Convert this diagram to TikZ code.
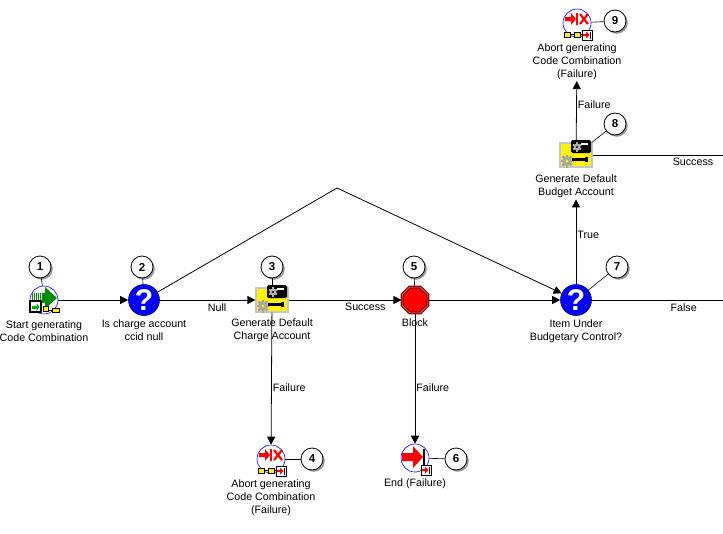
\documentclass[tikz,border=0pt]{standalone}
\usepackage{fontspec}
\setmainfont{Liberation Sans}
\usetikzlibrary{shapes.geometric, positioning, arrows.meta, shadows}

\tikzset{
  caption/.style={align=center, inner sep=1pt, font=\fontsize{10.7}{13}\selectfont},
  edgelabel/.style={inner sep=1pt, font=\fontsize{10.7}{13}\selectfont},
  badge/.style={circle, draw, fill=white, minimum size=22pt, inner sep=0pt, line width=0.8pt,
    font=\bfseries\fontsize{11.5}{13}\selectfont,
    drop shadow={shadow xshift=1.8pt, shadow yshift=-1.8pt, fill=gray, opacity=0.8}},
  flow/.style={-{Triangle[length=8pt, width=8pt]}},
  processicon/.style={circle, draw=blue, fill=white, minimum size=28pt, inner sep=0pt, line width=0.6pt},
  question/.style={circle, draw=blue!50!black, fill=blue, minimum size=31pt, inner sep=0pt,
    line width=0.6pt, text=white, font=\bfseries\fontsize{30}{30}\selectfont},
  function/.style={rectangle, draw=gray!45, fill=yellow, minimum width=32pt, minimum height=24pt,
    inner sep=0pt, line width=1.2pt},
  stopicon/.style={regular polygon, regular polygon sides=8, draw=red!50!black, double=red!45!white,
    double distance=0.6pt, line width=1.2pt, fill=red, minimum size=28pt, inner sep=0pt},
  pics/endbox/.style={code={
    \filldraw[fill=white, draw=black, line width=0.8pt] (-5,-5) rectangle (5,5);
    \fill[red] (-4,-1) -- (-1,-1) -- (-1,-3.5) -- (2.5,0) -- (-1,3.5) -- (-1,1) -- (-4,1) -- cycle;
    \fill[black] (2.5,-3.5) rectangle (3.8,3.5);
  }},
  pics/startmarks/.style={code={
    \fill[green!55!black] (-12,-7) -- (1,-7) -- (1,-13) -- (13,-2) -- (1,9) -- (1,3) -- (-12,3) -- cycle;
    \foreach \x in {-11,-9,-7,-5,-3}
      \draw[white, line width=0.6pt] (\x,-7) -- (\x,3);
    \filldraw[fill=white, draw=black, line width=1.2pt] (-14,1) rectangle (-3,12);
    \fill[green!70!black] (-12,5.5) rectangle (-7.5,8.5);
    \fill[green!70!black] (-7.5,3) -- (-4.5,7) -- (-7.5,11) -- cycle;
    \filldraw[fill=yellow, line width=0.5pt] (-1,6) rectangle (4,11);
    \draw[line width=0.5pt] (4,10) -- (8,10);
    \filldraw[fill=yellow, line width=0.5pt] (8,8) rectangle (15,12);
  }},
  pics/abortmarks/.style={code={
    \fill[red] (-12,-6) -- (-6,-6) -- (-6,-10) -- (-1,-4) -- (-6,2) -- (-6,-2) -- (-12,-2) -- cycle;
    \fill[red] (-1,-10) rectangle (1,2);
    \draw[red, line width=2.2pt] (3,-9) -- (11,1) (3,1) -- (11,-9);
    \filldraw[fill=yellow, line width=0.5pt] (-13,9) rectangle (-7,14);
    \draw[line width=0.5pt] (-7,11.5) -- (-3,11.5);
    \filldraw[fill=yellow, line width=0.5pt] (-3,9) rectangle (3,14);
    \draw[line width=0.5pt] (3,11.5) -- (5,11.5);
    \pic at (10,12) {endbox};
  }},
  pics/endmarks/.style={code={
    \fill[red] (-13,-5) -- (-2,-5) -- (-2,-12) -- (8,-1) -- (-2,10) -- (-2,3) -- (-13,3) -- cycle;
    \fill[black] (8,-9) rectangle (10,7);
    \pic at (11,12) {endbox};
  }},
  pics/functionmarks/.style={code={
    \fill[gray!70] (-9,6) circle (5);
    \foreach \a in {0,45,...,315}
      \fill[gray!70, shift={(-9,6)}, rotate=\a] (-1.3,4) rectangle (1.3,6.5);
    \fill[yellow] (-9,6) circle (1.6);
    \fill[black] (-4,3) rectangle (11,5.5);
    \fill[black] (9,1.5) rectangle (12,7);
    \fill[black, rounded corners=1.5pt] (-5,-15) rectangle (15,-2);
    \fill[gray!60] (1,-8) circle (3.5);
    \foreach \a in {0,60,...,300}
      \fill[gray!60, shift={(1,-8)}, rotate=\a] (-0.9,3) rectangle (0.9,4.7);
    \fill[black] (1,-8) circle (1.1);
    \fill[white] (5,-12) rectangle (12,-10);
  }},
}

\begin{document}
\begin{tikzpicture}[x=1pt, y=-1pt, line width=0.8pt]
\useasboundingbox (0,0) rectangle (723,533);

% activity icons
\node[processicon] (n1) at (44,300) {};
\pic at (n1) {startmarks};
\node[question] (n2) at (144,300) {?};
\node[function] (n3) at (272,300) {};
\pic at (n3) {functionmarks};
\node[processicon] (n4) at (271,459) {};
\pic at (n4) {abortmarks};
\node[stopicon] (n5) at (415,300) {};
\node[processicon] (n6) at (415,458) {};
\pic at (n6) {endmarks};
\node[question] (n7) at (576,300) {?};
\node[function] (n8) at (576,155) {};
\pic at (n8) {functionmarks};
\node[processicon] (n9) at (577,23) {};
\pic at (n9) {abortmarks};

% captions
\node[caption, below=5pt of n1] (t1) {Start generating\\Code Combination};
\node[caption, below=3pt of n2] (t2) {Is charge account\\ccid null};
\node[caption, below=5pt of n3] (t3) {Generate Default\\Charge Account};
\node[caption, below=5pt of n4] (t4) {Abort generating\\Code Combination\\(Failure)};
\node[caption, below=4pt of n5] (t5) {Block};
\node[caption, below=5pt of n6] (t6) {End (Failure)};
\node[caption, below=3pt of n7] (t7) {Item Under\\Budgetary Control?};
\node[caption, below=6pt of n8] (t8) {Generate Default\\Budget Account};
\node[caption, below=5pt of n9] (t9) {Abort generating\\Code Combination\\(Failure)};

% numbered badges
\node[badge] (b1) at (40,267) {1};
\node[badge] (b2) at (142,267) {2};
\node[badge] (b3) at (272,267) {3};
\node[badge] (b4) at (312,459) {4};
\node[badge] (b5) at (414,267) {5};
\node[badge] (b6) at (456,459) {6};
\node[badge] (b7) at (617,267) {7};
\node[badge] (b8) at (615,124) {8};
\node[badge] (b9) at (615,21) {9};
\foreach \k in {1,...,9}
  \draw[line width=0.6pt] (b\k) -- (n\k);

% connectors
\coordinate (peak) at (337,188);
\coordinate (exit7) at (723,300);
\coordinate (exit8) at (723,155);
\draw[flow] (n1) -- (n2);
\draw[flow] (n2) -- node[edgelabel, pos=0.6, below=2pt] {Null} (n3);
\draw[flow] (n3) -- node[edgelabel, pos=0.68, below=2pt] {Success} (n5);
\draw[flow] (n5) -- (n7);
\draw[flow] (n2) -- (peak) -- (n7);
\draw[flow] (n3) -- node[edgelabel, pos=0.57, right] {Failure} (n4);
\draw[flow] (n5) -- node[edgelabel, pos=0.57, right] {Failure} (n6);
\draw[flow] (n7) -- node[edgelabel, pos=0.58, right] {True} (t8);
\draw[flow] (n8) -- node[edgelabel, pos=0.62, right] {Failure} (t9);
\draw (n8) -- node[edgelabel, pos=0.77, below=2pt] {Success} (exit8);
\draw (n7) -- node[edgelabel, pos=0.7, below=2pt] {False} (exit7);
\end{tikzpicture}
\end{document}
